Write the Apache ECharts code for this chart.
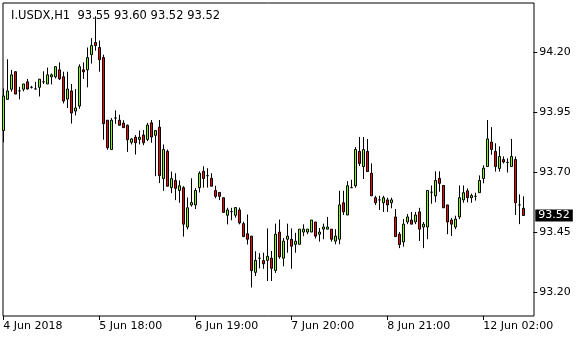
<!DOCTYPE html>
<html><head><meta charset="utf-8">
<script src="https://cdn.jsdelivr.net/npm/echarts@6/dist/echarts.min.js"></script>
<style>html,body{margin:0;padding:0;background:#fff}#c{width:580px;height:340px}</style>
</head><body><div id="c"></div>
<script>
var titleText = "I.USDX,H1  93.55 93.60 93.52 93.52";
var lastPrice = 93.52;
var yTicks = [93.20, 93.45, 93.70, 93.95, 94.20];
var xTickIndex = [0, 24, 48, 72, 96, 120];
var xTickLabels = ["4 Jun 2018", "5 Jun 18:00", "6 Jun 19:00", "7 Jun 20:00", "8 Jun 21:00", "12 Jun 02:00"];
var slotCount = 133;

var opens = [93.874,94.004,94.046,94.119,94.039,94.046,94.077,94.054,94.047,94.054,
94.077,94.068,94.098,94.098,94.127,94.098,94.005,94.039,93.955,93.976,
94.127,94.127,94.190,94.241,94.220,94.178,93.917,93.795,93.926,93.917,
93.905,93.896,93.825,93.846,93.837,93.855,93.837,93.906,93.854,93.888,
93.674,93.787,93.636,93.666,93.624,93.636,93.472,93.564,93.564,93.636,
93.704,93.686,93.675,93.624,93.616,93.594,93.521,93.536,93.521,93.543,
93.486,93.444,93.434,93.283,93.342,93.332,93.333,93.342,93.291,93.451,
93.342,93.421,93.421,93.400,93.400,93.451,93.451,93.451,93.493,93.442,
93.463,93.463,93.463,93.413,93.421,93.573,93.522,93.636,93.644,93.787,
93.724,93.787,93.696,93.594,93.585,93.573,93.585,93.573,93.514,93.442,
93.410,93.493,93.501,93.493,93.535,93.472,93.472,93.617,93.602,93.675,
93.645,93.564,93.501,93.472,93.514,93.585,93.623,93.594,93.600,93.615,
93.674,93.724,93.826,93.787,93.716,93.753,93.741,93.724,93.753,93.564,
93.55];
var closes = [94.018,94.039,94.106,94.026,94.039,94.068,94.047,94.054,94.047,94.088,
94.077,94.106,94.106,94.140,94.089,93.997,94.047,93.947,93.968,94.140,
94.119,94.178,94.228,94.228,94.169,93.903,93.802,93.917,93.926,93.896,
93.886,93.836,93.839,93.823,93.846,93.823,93.897,93.847,93.874,93.686,
93.795,93.642,93.674,93.633,93.644,93.484,93.552,93.574,93.624,93.696,
93.674,93.686,93.642,93.600,93.600,93.533,93.543,93.536,93.553,93.489,
93.432,93.421,93.290,93.333,93.342,93.319,93.350,93.300,93.442,93.348,
93.413,93.434,93.392,93.413,93.463,93.463,93.463,93.501,93.434,93.451,
93.472,93.472,93.421,93.434,93.564,93.535,93.644,93.636,93.795,93.737,
93.795,93.703,93.602,93.573,93.585,93.594,93.564,93.585,93.432,93.399,
93.484,93.514,93.484,93.522,93.463,93.484,93.624,93.617,93.666,93.654,
93.552,93.493,93.484,93.505,93.594,93.615,93.594,93.603,93.600,93.666,
93.717,93.839,93.795,93.724,93.766,93.743,93.741,93.766,93.573,93.564,
93.52];
var lows = [93.825,94.003,94.036,94.026,94.004,94.037,94.045,94.049,94.047,94.016,
94.068,94.068,94.066,94.091,94.085,93.987,93.968,93.903,93.937,93.965,
94.089,94.054,94.153,94.207,94.119,93.836,93.794,93.795,93.902,93.896,
93.886,93.785,93.816,93.774,93.816,93.813,93.830,93.823,93.684,93.655,
93.623,93.642,93.613,93.584,93.573,93.432,93.462,93.557,93.547,93.616,
93.636,93.636,93.642,93.592,93.584,93.533,93.483,93.500,93.511,93.483,
93.432,93.399,93.220,93.268,93.300,93.298,93.247,93.247,93.281,93.340,
93.308,93.365,93.298,93.365,93.400,93.434,93.442,93.451,93.424,93.411,
93.421,93.463,93.411,93.400,93.400,93.522,93.522,93.636,93.636,93.726,
93.672,93.703,93.602,93.564,93.543,93.535,93.535,93.550,93.432,93.384,
93.390,93.484,93.484,93.484,93.414,93.384,93.421,93.569,93.575,93.619,
93.552,93.442,93.435,93.463,93.505,93.573,93.575,93.573,93.582,93.615,
93.654,93.724,93.773,93.703,93.703,93.737,93.699,93.724,93.522,93.484,
93.52];
var highs = [94.049,94.171,94.127,94.121,94.056,94.068,94.089,94.060,94.077,94.089,
94.121,94.136,94.112,94.142,94.158,94.119,94.119,94.068,94.047,94.150,
94.158,94.220,94.259,94.350,94.249,94.190,93.917,93.926,93.958,93.940,
93.917,93.899,93.842,93.855,93.874,93.876,93.906,93.918,93.874,93.918,
93.816,93.795,93.703,93.696,93.666,93.642,93.595,93.675,93.634,93.704,
93.725,93.717,93.696,93.644,93.616,93.594,93.552,93.552,93.553,93.553,
93.494,93.524,93.434,93.371,93.363,93.365,93.466,93.372,93.486,93.503,
93.426,93.486,93.466,93.448,93.463,93.483,93.463,93.501,93.493,93.468,
93.486,93.514,93.463,93.463,93.623,93.623,93.663,93.669,93.805,93.847,
93.847,93.839,93.737,93.602,93.602,93.602,93.594,93.594,93.547,93.451,
93.505,93.526,93.535,93.535,93.552,93.493,93.624,93.645,93.704,93.704,
93.645,93.564,93.510,93.519,93.645,93.645,93.633,93.611,93.615,93.687,
93.729,93.918,93.888,93.821,93.808,93.766,93.758,93.839,93.766,93.608,
93.60];

var cats = [];
for (var i = 0; i < slotCount; i++) cats.push(i);
var candles = opens.map(function (o, i) { return [o, closes[i], lows[i], highs[i]]; });
function isTick(idx) { return xTickIndex.indexOf(idx) >= 0; }

var FONT = "DejaVu Sans";
var chart = echarts.init(document.getElementById('c'), null, {renderer: 'canvas'});
chart.setOption({
  animation: false,
  backgroundColor: '#ffffff',
  title: {
    text: titleText, left: 6, top: 5,
    textStyle: {fontFamily: FONT, fontSize: 11.5, fontWeight: 'normal', color: '#000'}
  },
  grid: [
    {left: 1.3, right: 46.7, top: 3, bottom: 24, show: false, containLabel: false},
    {left: 3, right: 46, top: 3, bottom: 24, show: true, borderColor: '#000', borderWidth: 1, backgroundColor: 'transparent'}
  ],
  xAxis: [
    {
      type: 'category', gridIndex: 0, data: cats, boundaryGap: true,
      axisLine: {show: false},
      axisTick: {show: true, alignWithLabel: true, length: 4, interval: function (i) { return isTick(i); }, lineStyle: {color: '#000'}},
      axisLabel: {
        interval: function (i) { return isTick(i); }, align: 'left', margin: 5,
        fontFamily: FONT, fontSize: 11, color: '#000',
        formatter: function (v, i) { var k = xTickIndex.indexOf(i); return k >= 0 ? xTickLabels[k] : ''; }
      },
      splitLine: {show: false}
    },
    {type: 'value', gridIndex: 1, show: false, min: 0, max: 1}
  ],
  yAxis: [
    {
      type: 'value', gridIndex: 0, position: 'right', min: 93.1012, max: 94.4054,
      axisLine: {show: false},
      axisTick: {show: true, customValues: yTicks, length: 4, inside: false, lineStyle: {color: '#000'}},
      axisLabel: {customValues: yTicks, margin: 6, fontFamily: FONT, fontSize: 11, color: '#000',
        formatter: function (v) { return v.toFixed(2); }},
      splitLine: {show: false}
    },
    {type: 'value', gridIndex: 1, show: false, min: 0, max: 1}
  ],
  series: [{
    type: 'candlestick',
    xAxisIndex: 0, yAxisIndex: 0,
    data: candles,
    barWidth: 2,
    itemStyle: {color: '#7CFC00', color0: '#FF0000', borderColor: '#000', borderColor0: '#000', borderWidth: 1},
    markLine: {
      silent: true, symbol: ['none', 'none'],
      lineStyle: {color: 'rgba(0,0,0,0)', width: 1, type: 'solid', opacity: 1},
      data: [{yAxis: lastPrice}],
      label: {
        show: true, position: 'end', distance: 2, opacity: 1,
        formatter: function () { return lastPrice.toFixed(2); },
        backgroundColor: '#000', color: '#fff', fontFamily: FONT, fontSize: 11,
        padding: [1, 3, 0, 3], lineHeight: 11
      },
      emphasis: {disabled: true}
    }
  }]
});
</script>
</body></html>
